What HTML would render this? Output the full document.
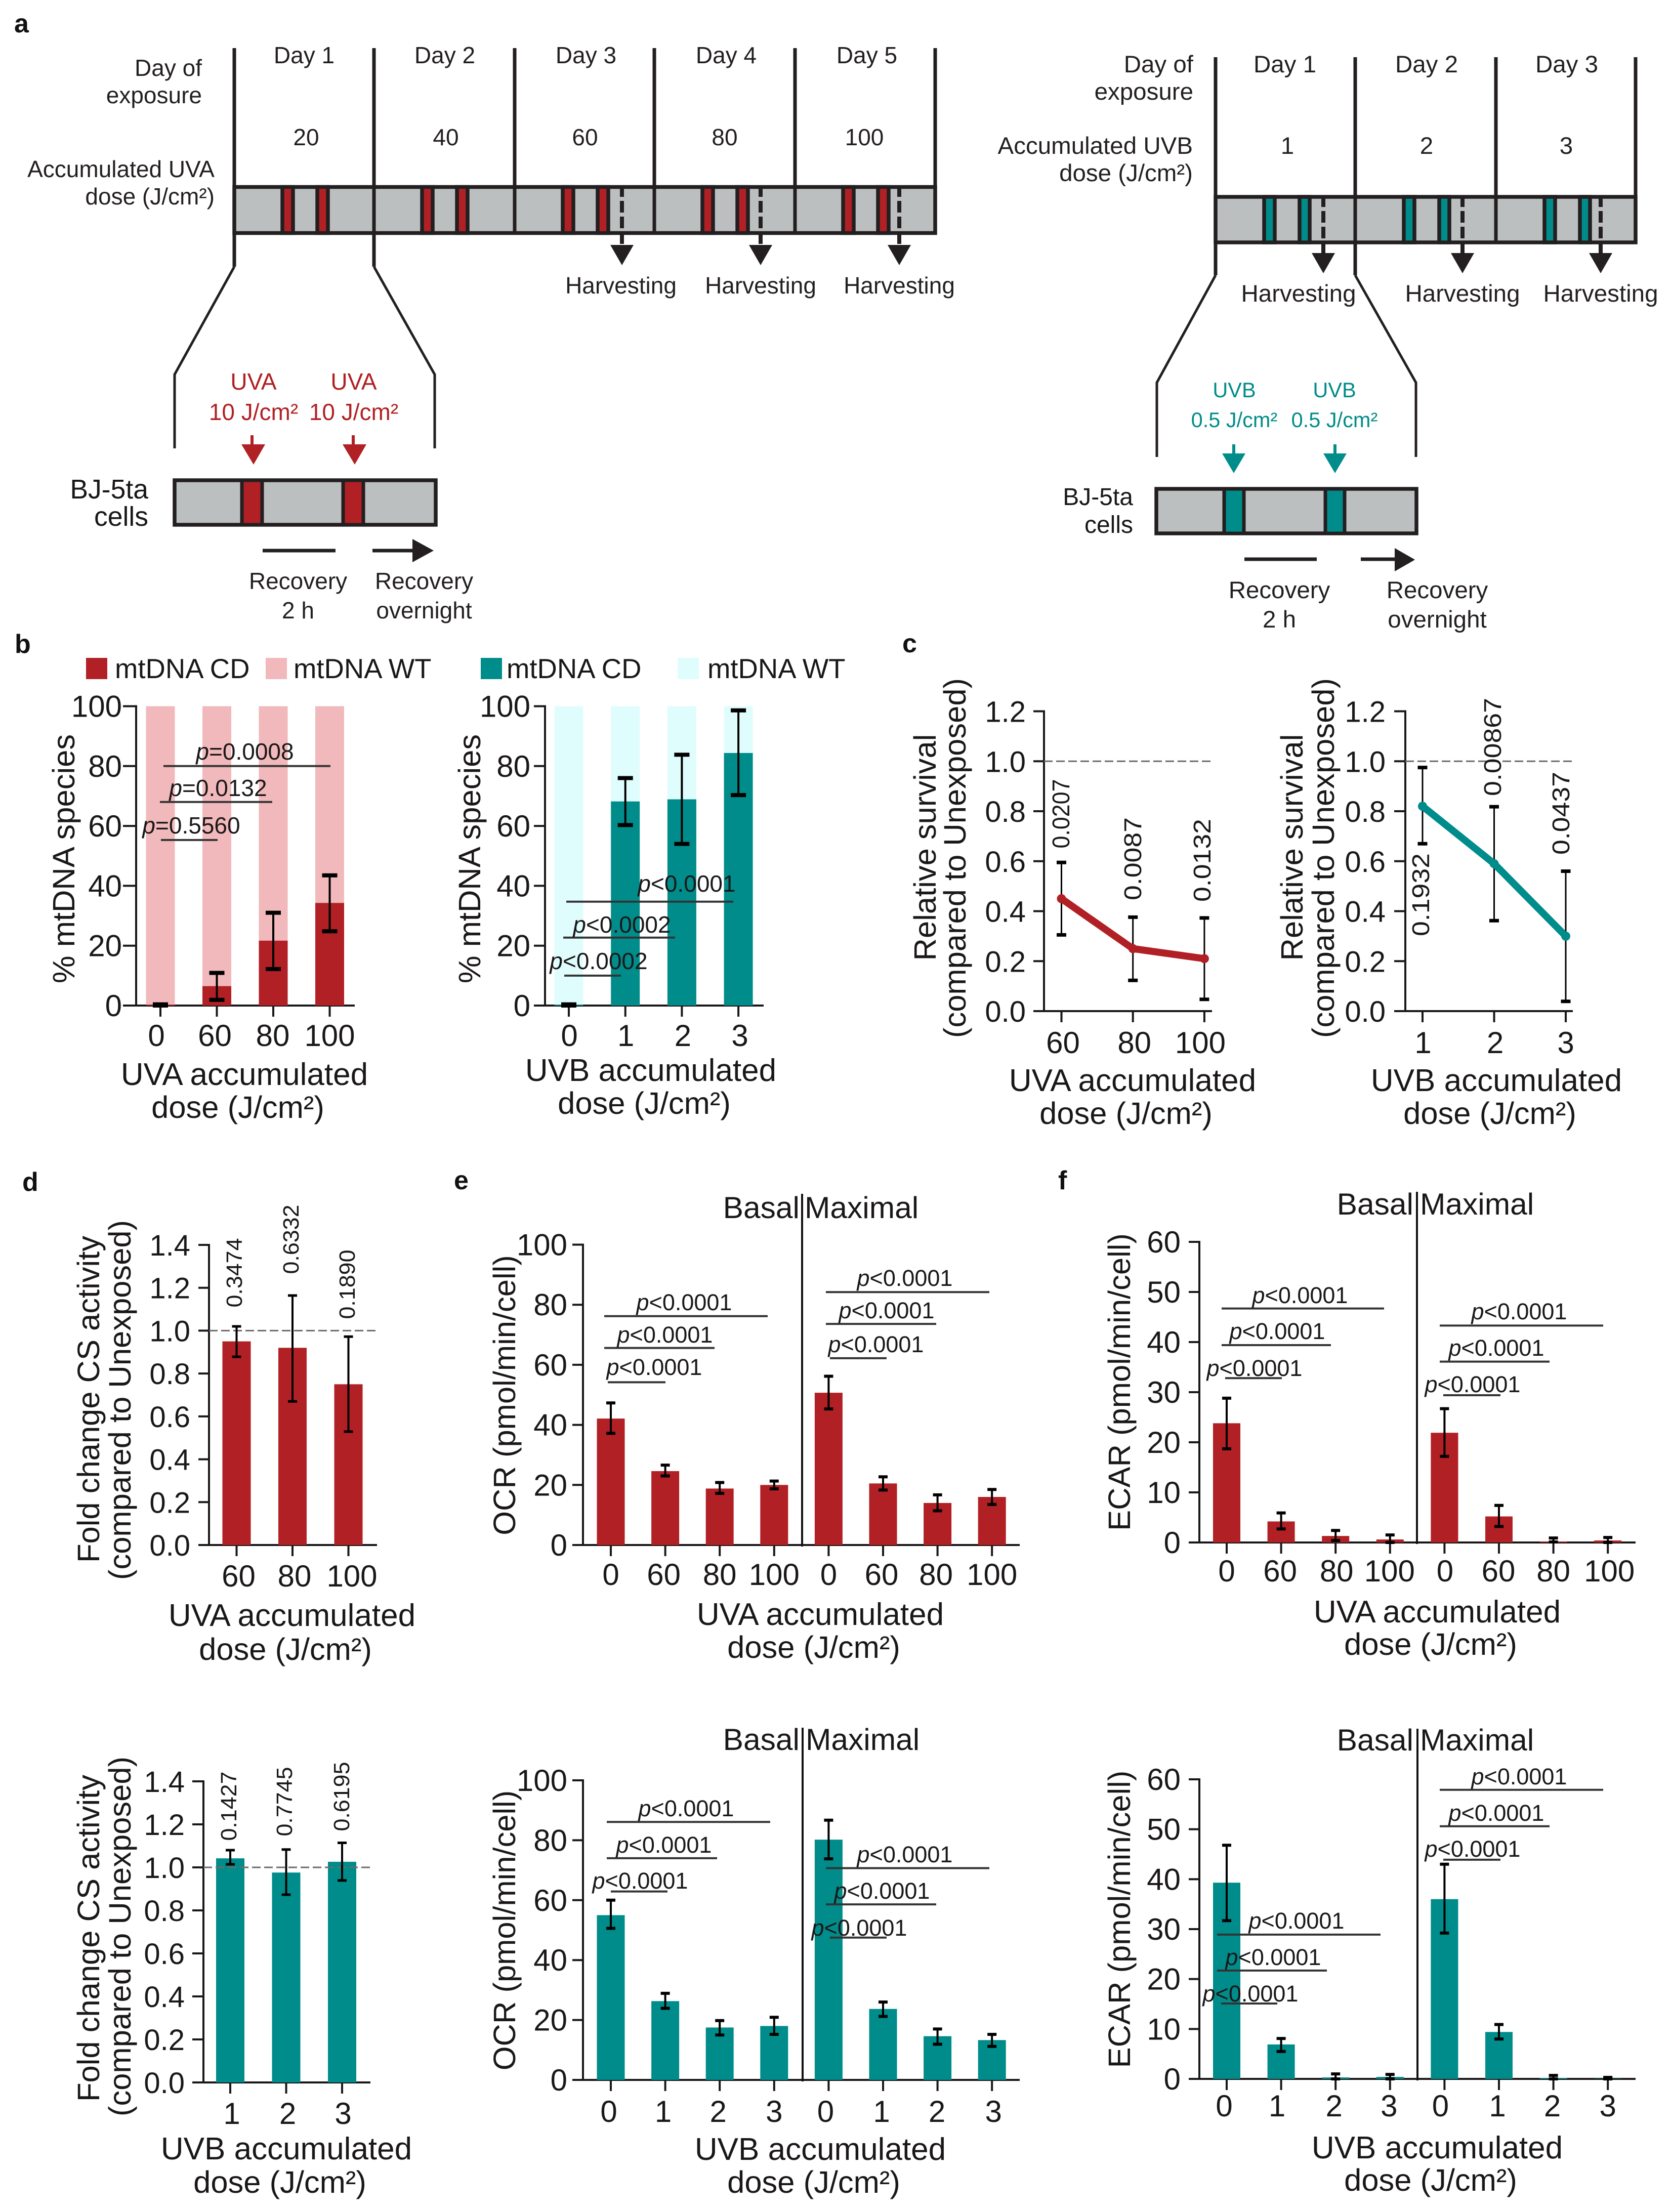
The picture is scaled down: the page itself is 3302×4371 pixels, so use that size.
<!DOCTYPE html>
<html lang="en">
<head>
<meta charset="utf-8">
<title>UV exposure schematic and mitochondrial response charts</title>
<style>
html,body{margin:0;padding:0;background:#fff;}
svg{display:block;position:absolute;left:0;top:0;font-family:"Liberation Sans",Arial,sans-serif;fill:#1a1718;}
text{fill:#1a1718;}
.d{font-size:46px;fill:#231f20;}
.d2{font-size:47.5px;fill:#231f20;}
.red{font-size:46px;fill:#b12024;}
.teal{font-size:41.5px;fill:#008c8a;}
.pl{font-size:52px;font-weight:bold;fill:#111;}
</style>
</head>
<body>
<svg id="figure" xmlns="http://www.w3.org/2000/svg" width="3302" height="4371" viewBox="0 0 3302 4371">
<rect x="0" y="0" width="3302" height="4371" fill="#fff"/>

<text class="pl" x="28" y="64">a</text>
<text class="pl" x="29" y="1290">b</text>
<text class="pl" x="1783" y="1289">c</text>
<text class="pl" x="44" y="2353">d</text>
<text class="pl" x="897" y="2350">e</text>
<text class="pl" x="2091" y="2350">f</text>

<!-- Panel a, UVA schematic -->
<g>
  <text class="d" x="399" y="150" text-anchor="end">Day of</text>
  <text class="d" x="399" y="204" text-anchor="end">exposure</text>
  <text class="d" x="424" y="350" text-anchor="end">Accumulated UVA</text>
  <text class="d" x="424" y="404" text-anchor="end">dose (J/cm²)</text>
  <text class="d" x="601" y="125" text-anchor="middle">Day 1</text>
  <text class="d" x="879" y="125" text-anchor="middle">Day 2</text>
  <text class="d" x="1158" y="125" text-anchor="middle">Day 3</text>
  <text class="d" x="1435" y="125" text-anchor="middle">Day 4</text>
  <text class="d" x="1713" y="125" text-anchor="middle">Day 5</text>
  <text class="d" x="605" y="287" text-anchor="middle">20</text>
  <text class="d" x="881" y="287" text-anchor="middle">40</text>
  <text class="d" x="1156" y="287" text-anchor="middle">60</text>
  <text class="d" x="1432" y="287" text-anchor="middle">80</text>
  <text class="d" x="1708" y="287" text-anchor="middle">100</text>
  <rect x="463" y="369.5" width="1385" height="91" fill="#bcbfbf" stroke="#231f20" stroke-width="7.5"/>
  <g fill="#b12024" stroke="#231f20" stroke-width="7.5">
    <rect x="558" y="369.5" width="21" height="91"/>
    <rect x="627" y="369.5" width="21" height="91"/>
    <rect x="834" y="369.5" width="21" height="91"/>
    <rect x="903" y="369.5" width="21" height="91"/>
    <rect x="1112" y="369.5" width="21" height="91"/>
    <rect x="1181" y="369.5" width="21" height="91"/>
    <rect x="1388" y="369.5" width="21" height="91"/>
    <rect x="1457" y="369.5" width="21" height="91"/>
    <rect x="1666" y="369.5" width="21" height="91"/>
    <rect x="1735" y="369.5" width="21" height="91"/>
  </g>
  <g stroke="#231f20" stroke-width="7" fill="none">
    <line x1="463" y1="95" x2="463" y2="527"/>
    <line x1="739" y1="95" x2="739" y2="527"/>
    <line x1="1017" y1="95" x2="1017" y2="464"/>
    <line x1="1293" y1="95" x2="1293" y2="464"/>
    <line x1="1571" y1="95" x2="1571" y2="464"/>
    <line x1="1848" y1="95" x2="1848" y2="464"/>
  </g>
  <g stroke="#231f20" stroke-width="8" stroke-dasharray="23 8" fill="none">
    <line x1="1229" y1="366" x2="1229" y2="488"/>
    <line x1="1503" y1="366" x2="1503" y2="488"/>
    <line x1="1777" y1="366" x2="1777" y2="488"/>
  </g>
  <polygon points="1206,484 1252,484 1229,524" fill="#231f20"/>
  <polygon points="1480,484 1526,484 1503,524" fill="#231f20"/>
  <polygon points="1754,484 1800,484 1777,524" fill="#231f20"/>
  <text class="d" x="1227" y="580" text-anchor="middle">Harvesting</text>
  <text class="d" x="1503" y="580" text-anchor="middle">Harvesting</text>
  <text class="d" x="1777" y="580" text-anchor="middle">Harvesting</text>
  <polyline points="463,527 345,740 345,886" fill="none" stroke="#231f20" stroke-width="5"/>
  <polyline points="739,527 859,740 859,886" fill="none" stroke="#231f20" stroke-width="5"/>
  <text class="red" x="501" y="770" text-anchor="middle">UVA</text>
  <text class="red" x="501" y="830" text-anchor="middle">10 J/cm²</text>
  <text class="red" x="699" y="770" text-anchor="middle">UVA</text>
  <text class="red" x="699" y="830" text-anchor="middle">10 J/cm²</text>
  <path d="M495 860h6v18h23l-23 40l-24-40h18z" fill="#b12024"/>
  <path d="M695 860h6v18h23l-23 40l-24-40h18z" fill="#b12024"/>
  <text x="293" y="985" text-anchor="end" font-size="53.5" fill="#231f20">BJ-5ta</text>
  <text x="293" y="1039" text-anchor="end" font-size="53.5" fill="#231f20">cells</text>
  <rect x="345" y="949" width="516" height="88" fill="#bcbfbf" stroke="#231f20" stroke-width="7.5"/>
  <rect x="478" y="949" width="40" height="88" fill="#b12024" stroke="#231f20" stroke-width="7"/>
  <rect x="678" y="949" width="40" height="88" fill="#b12024" stroke="#231f20" stroke-width="7"/>
  <line x1="519" y1="1088" x2="663" y2="1088" stroke="#231f20" stroke-width="7"/>
  <line x1="736" y1="1088" x2="820" y2="1088" stroke="#231f20" stroke-width="7"/>
  <polygon points="815,1065 857,1088 815,1111" fill="#231f20"/>
  <text class="d" x="589" y="1164" text-anchor="middle">Recovery</text>
  <text class="d" x="589" y="1222" text-anchor="middle">2 h</text>
  <text class="d" x="838" y="1164" text-anchor="middle">Recovery</text>
  <text class="d" x="838" y="1222" text-anchor="middle">overnight</text>
</g>

<!-- Panel a, UVB schematic -->
<g>
  <text class="d2" x="2358" y="143" text-anchor="end">Day of</text>
  <text class="d2" x="2358" y="197" text-anchor="end">exposure</text>
  <text class="d2" x="2357" y="304" text-anchor="end">Accumulated UVB</text>
  <text class="d2" x="2357" y="358" text-anchor="end">dose (J/cm²)</text>
  <text class="d2" x="2539" y="143" text-anchor="middle">Day 1</text>
  <text class="d2" x="2819" y="143" text-anchor="middle">Day 2</text>
  <text class="d2" x="3096" y="143" text-anchor="middle">Day 3</text>
  <text class="d2" x="2544" y="304" text-anchor="middle">1</text>
  <text class="d2" x="2819" y="304" text-anchor="middle">2</text>
  <text class="d2" x="3095" y="304" text-anchor="middle">3</text>
  <rect x="2402" y="389" width="830" height="90" fill="#bcbfbf" stroke="#231f20" stroke-width="7.5"/>
  <g fill="#008c8a" stroke="#231f20" stroke-width="7.5">
    <rect x="2498" y="389" width="21" height="90"/>
    <rect x="2568" y="389" width="20" height="90"/>
    <rect x="2774" y="389" width="21" height="90"/>
    <rect x="2844" y="389" width="20" height="90"/>
    <rect x="3052" y="389" width="21" height="90"/>
    <rect x="3122" y="389" width="20" height="90"/>
  </g>
  <g stroke="#231f20" stroke-width="7" fill="none">
    <line x1="2402" y1="113" x2="2402" y2="544"/>
    <line x1="2678" y1="113" x2="2678" y2="544"/>
    <line x1="2956" y1="113" x2="2956" y2="482"/>
    <line x1="3232" y1="113" x2="3232" y2="482"/>
  </g>
  <g stroke="#231f20" stroke-width="8" stroke-dasharray="23 8" fill="none">
    <line x1="2615" y1="386" x2="2615" y2="503"/>
    <line x1="2890" y1="386" x2="2890" y2="503"/>
    <line x1="3163" y1="386" x2="3163" y2="503"/>
  </g>
  <polygon points="2592,500 2638,500 2615,540" fill="#231f20"/>
  <polygon points="2867,500 2913,500 2890,540" fill="#231f20"/>
  <polygon points="3140,500 3186,500 3163,540" fill="#231f20"/>
  <text class="d2" x="2566" y="596" text-anchor="middle">Harvesting</text>
  <text class="d2" x="2890" y="596" text-anchor="middle">Harvesting</text>
  <text class="d2" x="3163" y="596" text-anchor="middle">Harvesting</text>
  <polyline points="2402,544 2286,756 2286,903" fill="none" stroke="#231f20" stroke-width="5"/>
  <polyline points="2678,544 2798,756 2798,903" fill="none" stroke="#231f20" stroke-width="5"/>
  <text class="teal" x="2439" y="785" text-anchor="middle">UVB</text>
  <text class="teal" x="2439" y="844" text-anchor="middle">0.5 J/cm²</text>
  <text class="teal" x="2637" y="785" text-anchor="middle">UVB</text>
  <text class="teal" x="2637" y="844" text-anchor="middle">0.5 J/cm²</text>
  <path d="M2435 878h6v18h20l-23 39l-23-39h20z" fill="#008c8a"/>
  <path d="M2635 878h6v18h20l-23 39l-23-39h20z" fill="#008c8a"/>
  <text x="2239" y="998" text-anchor="end" font-size="48" fill="#231f20">BJ-5ta</text>
  <text x="2239" y="1053" text-anchor="end" font-size="48" fill="#231f20">cells</text>
  <rect x="2285" y="966" width="514" height="88" fill="#bcbfbf" stroke="#231f20" stroke-width="7.5"/>
  <rect x="2419" y="966" width="39" height="88" fill="#008c8a" stroke="#231f20" stroke-width="7"/>
  <rect x="2619" y="966" width="38" height="88" fill="#008c8a" stroke="#231f20" stroke-width="7"/>
  <line x1="2459" y1="1105" x2="2602" y2="1105" stroke="#231f20" stroke-width="7"/>
  <line x1="2689" y1="1105" x2="2760" y2="1105" stroke="#231f20" stroke-width="7"/>
  <polygon points="2756,1083 2796,1106 2756,1129" fill="#231f20"/>
  <text class="d2" x="2528" y="1182" text-anchor="middle">Recovery</text>
  <text class="d2" x="2528" y="1240" text-anchor="middle">2 h</text>
  <text class="d2" x="2840" y="1182" text-anchor="middle">Recovery</text>
  <text class="d2" x="2840" y="1240" text-anchor="middle">overnight</text>
</g>

<!-- Panel b legends -->
<g>
  <rect x="170" y="1300" width="42" height="42" fill="#b12024"/>
  <text x="227" y="1340" font-size="54.5">mtDNA CD</text>
  <rect x="525" y="1300" width="42" height="42" fill="#f1b9bb"/>
  <text x="580" y="1340" font-size="54.5">mtDNA WT</text>
</g>
<g>
  <rect x="950" y="1300" width="42" height="42" fill="#008c8a"/>
  <text x="1001" y="1340" font-size="54.5">mtDNA CD</text>
  <rect x="1339" y="1300" width="42" height="42" fill="#e0fdfd"/>
  <text x="1398" y="1340" font-size="54.5">mtDNA WT</text>
</g>
</svg>

<script>
// ---------- chart data ----------
const doseCatsUva4 = ["0", "60", "80", "100"];
const doseCatsUvb4 = ["0", "1", "2", "3"];
const doseCatsUva3 = ["60", "80", "100"];
const doseCatsUvb3 = ["1", "2", "3"];
const doseCatsUva8 = ["0", "60", "80", "100", "0", "60", "80", "100"];
const doseCatsUvb8 = ["0", "1", "2", "3", "0", "1", "2", "3"];

const ticksPercent = ["0", "20", "40", "60", "80", "100"];
const ticksRelative12 = ["0.0", "0.2", "0.4", "0.6", "0.8", "1.0", "1.2"];
const ticksRelative14 = ["0.0", "0.2", "0.4", "0.6", "0.8", "1.0", "1.2", "1.4"];
const ticksEcar = ["0", "10", "20", "30", "40", "50", "60"];

const bUvaCD = [0.3, 6.5, 21.7, 34.3];
const bUvaWT = [99.7, 93.5, 78.3, 65.7];
const bUvaHi = [0.4, 10.9, 31, 43.5];
const bUvaLo = [0, 1.9, 12.2, 24.8];

const bUvbCD = [0.3, 68.2, 68.9, 84.4];
const bUvbWT = [99.7, 31.8, 31.1, 15.6];
const bUvbHi = [0.4, 76, 83.8, 98.6];
const bUvbLo = [0, 60.3, 54, 70.3];

const cUvaMean = [0.45, 0.25, 0.21];
const cUvaHi = [0.595, 0.376, 0.373];
const cUvaLo = [0.305, 0.123, 0.047];
const cUvaP = ["0.0207", "0.0087", "0.0132"];

const cUvbMean = [0.82, 0.59, 0.30];
const cUvbHi = [0.975, 0.818, 0.56];
const cUvbLo = [0.67, 0.362, 0.039];
const cUvbP = ["0.1932", "0.00867", "0.0437"];

const dUvaMean = [0.95, 0.92, 0.75];
const dUvaHi = [1.02, 1.164, 0.972];
const dUvaLo = [0.878, 0.67, 0.529];
const dUvaP = ["0.3474", "0.6332", "0.1890"];

const dUvbMean = [1.042, 0.976, 1.026];
const dUvbHi = [1.08, 1.083, 1.114];
const dUvbLo = [1.014, 0.873, 0.939];
const dUvbP = ["0.1427", "0.7745", "0.6195"];

const eUvaMean = [42.1, 24.6, 18.8, 20, 50.7, 20.5, 14, 16];
const eUvaHi = [47.3, 26.6, 20.8, 21.3, 56.2, 22.7, 16.7, 18.5];
const eUvaLo = [37.2, 23, 17.2, 18.7, 45.3, 18.3, 11.4, 13.5];

const eUvbMean = [55, 26.3, 17.5, 18, 80.2, 23.7, 14.6, 13.3];
const eUvbHi = [60, 28.9, 19.8, 20.9, 86.7, 26, 17, 15.2];
const eUvbLo = [50.6, 23.9, 15, 15.2, 73.8, 21.2, 11.9, 11.2];

const fUvaMean = [23.8, 4.2, 1.3, 0.6, 21.9, 5.2, 0.2, 0.4];
const fUvaHi = [28.8, 5.9, 2.4, 1.5, 26.7, 7.4, 0.9, 1];
const fUvaLo = [18.7, 2.7, 0.4, 0, 17.2, 3.2, 0.1, 0];

const fUvbMean = [39.3, 6.9, 0.3, 0.4, 36, 9.4, 0.2, 0.05];
const fUvbHi = [46.8, 8.1, 1, 0.9, 43, 10.9, 0.7, 0.3];
const fUvbLo = [31.7, 5.5, 0, 0, 29.2, 8, 0, 0];

// ---------- colours ----------
const RED = "#b12024", PINK = "#f1b9bb", TEAL = "#008c8a", CYAN = "#e0fdfd", INK = "#1a1718";

// ---------- low level helpers ----------
const figure = document.getElementById("figure");
const NS = "http://www.w3.org/2000/svg";

function mk(parent, tag, attrs, content) {
  const node = document.createElementNS(NS, tag);
  for (const k in attrs) node.setAttribute(k, attrs[k]);
  if (content !== undefined) node.textContent = content;
  parent.appendChild(node);
  return node;
}
function seg(parent, x1, y1, x2, y2, stroke, width, dash) {
  const a = { x1: x1, y1: y1, x2: x2, y2: y2, stroke: stroke, "stroke-width": width };
  if (dash) a["stroke-dasharray"] = dash;
  return mk(parent, "line", a);
}
function label(parent, x, y, str, size, anchor, rotate, len) {
  const a = { x: x, y: y, "font-size": size, "text-anchor": anchor || "middle" };
  if (rotate) a.transform = "rotate(-90 " + x + " " + y + ")";
  if (len) { a.textLength = len; a.lengthAdjust = "spacingAndGlyphs"; }
  return mk(parent, "text", a, str);
}

// ---------- axes ----------
function makeAxes(o) {
  const group = mk(figure, "g", {});
  
  
  const sy = v => o.y0 - (v / o.yMax) * (o.y0 - o.yTop);
  const sx = i => o.xFirst + i * o.xStep;

  o.yTicks.forEach(t => {
    const v = Number(t);
    const tick = seg(group, o.tickLeft, sy(v), o.axisX, sy(v), INK, 4);
    
    
    const tl = label(group, o.yLabelRight, sy(v) + 21, t, o.yFont || 60, "end");
    
    
  });
  o.categories.forEach((c, i) => {
    const tick = seg(group, sx(i), o.y0, sx(i), o.y0 + 22, INK, 4);
    
    
    const nudge = o.labelNudge ? o.labelNudge[i] : 0;
    const tl = label(group, sx(i) + nudge, o.xLabelY, c, o.xFont || 60);
    
    
  });
  const ya = seg(group, o.axisX, o.yTop - 2, o.axisX, o.y0 + 2, INK, 4);
  
  
  const xa = seg(group, o.tickLeft, o.y0, o.xEnd, o.y0, INK, 4);
  
  
  return { g: group, sx: sx, sy: sy, o: o };
}

function refLine(ax, value) {
  const el = seg(ax.g, ax.o.axisX, ax.sy(value), ax.o.xEnd, ax.sy(value), "#6b6b6b", 3, "17 7");
  
  
}

function bars(ax, values, base, color, width, name) {
  values.forEach((v, i) => {
    const b = base ? base[i] : 0;
    const el = mk(ax.g, "rect", { x: ax.sx(i) - width / 2, y: ax.sy(b + v), width: width, height: ax.sy(b) - ax.sy(b + v), fill: color });
    
    
  });
}

function errorBars(ax, hi, lo, capW, capT, stem) {
  hi.forEach((h, i) => {
    const x = ax.sx(i);
    const s = seg(ax.g, x, ax.sy(h), x, ax.sy(lo[i]), "#000", stem);
    
    
    const top = seg(ax.g, x - capW / 2, ax.sy(h), x + capW / 2, ax.sy(h), "#000", capT);
    
    
    const bot = seg(ax.g, x - capW / 2, ax.sy(lo[i]), x + capW / 2, ax.sy(lo[i]), "#000", capT);
    
    
  });
}

function seriesLine(ax, values, color) {
  const pts = values.map((v, i) => ax.sx(i) + "," + ax.sy(v)).join(" ");
  const pl = mk(ax.g, "polyline", { points: pts, fill: "none", stroke: color, "stroke-width": 14, "stroke-linejoin": "round" });
  
  
  values.forEach((v, i) => {
    const c = mk(ax.g, "circle", { cx: ax.sx(i), cy: ax.sy(v), r: 9, fill: color });
    
    
  });
}

// A significance bracket: a horizontal bar at a data level plus its p label.
function stat(ax, x1, x2, level, op, val, textX, textY, size) {
  const l = seg(ax.g, x1, ax.sy(level), x2, ax.sy(level), "#333", 4);
  
  
  const t = mk(ax.g, "text", { x: textX, y: textY, "font-size": size, "text-anchor": "middle" });
  
  
  const ps = mk(t, "tspan", { "font-style": "italic" }, "p");
  
  
  const vs = mk(t, "tspan", {}, op + val);
  
  
}

function yTitle(ax, x, y, str) {
  const t = label(ax.g, x, y, str, 61.5, "middle", true);
  
  
}
function xTitle(ax, x, y1, y2, str) {
  const a = label(ax.g, x, y1, str, 62);
  
  
  const b = label(ax.g, x - 13, y2, "dose (J/cm²)", 61.5);
  
  
}
function vertP(ax, x, y, str, size, len) {
  const t = label(ax.g, x, y, str, size, "middle", true, len);
  
  
}
function divider(ax, top, x) {
  const d = seg(ax.g, x, top, x, ax.o.y0 + 3, "#111", 4);
  
  
}
function headers(ax, basalRight, maxLeft, y) {
  const a = label(ax.g, basalRight, y, "Basal", 60.5, "end");
  
  
  const b = label(ax.g, maxLeft, y, "Maximal", 60.5, "start");
  
  
}

// ---------- panel b ----------
const b1 = makeAxes({ name: "panel-b-uva-mtdna-chart", categories: doseCatsUva4, yTicks: ticksPercent, yMax: 100,
  axisX: 269, yTop: 1395.5, y0: 1987, tickLeft: 243, xEnd: 701, xFirst: 317, xStep: 111.5, yLabelRight: 241, xLabelY: 2067, labelNudge: [-8, -4, -1, 0] });
bars(b1, bUvaCD, null, RED, 57, "mtdna-cd-bar");
bars(b1, bUvaWT, bUvaCD, PINK, 57, "mtdna-wt-bar");
errorBars(b1, bUvaHi, bUvaLo, 30, 8, 4);
stat(b1, 323, 653, 80, "=", "0.0008", 484, 1501, 46);
stat(b1, 316, 538, 68, "=", "0.0132", 431, 1573, 46);
stat(b1, 318, 430, 55.3, "=", "0.5560", 378, 1647, 46);
yTitle(b1, 147, 1697, "% mtDNA species");
xTitle(b1, 483, 2144, 2209, "UVA accumulated");

const b2 = makeAxes({ name: "panel-b-uvb-mtdna-chart", categories: doseCatsUvb4, yTicks: ticksPercent, yMax: 100,
  axisX: 1077, yTop: 1395.5, y0: 1987, tickLeft: 1055, xEnd: 1509, xFirst: 1124, xStep: 111.7, yLabelRight: 1048, xLabelY: 2067, labelNudge: [1, 1, 2, 3] });
bars(b2, bUvbCD, null, TEAL, 57, "mtdna-cd-bar");
bars(b2, bUvbWT, bUvbCD, CYAN, 57, "mtdna-wt-bar");
errorBars(b2, bUvbHi, bUvbLo, 30, 8, 4);
stat(b2, 1119, 1449, 34.7, "<", "0.0001", 1357, 1762, 46);
stat(b2, 1113, 1334, 22.7, "<", "0.0002", 1229, 1843, 46);
stat(b2, 1115, 1227, 10, "<", "0.0002", 1183, 1915, 46);
yTitle(b2, 949, 1697, "% mtDNA species");
xTitle(b2, 1286, 2136, 2201, "UVB accumulated");

// ---------- panel c ----------
const c1 = makeAxes({ name: "panel-c-uva-survival-chart", categories: doseCatsUva3, yTicks: ticksRelative12, yMax: 1.2,
  axisX: 2063, yTop: 1405.5, y0: 1998, tickLeft: 2042, xEnd: 2395, xFirst: 2097.5, xStep: 141.2, yLabelRight: 2027, xLabelY: 2081, yFont: 58, labelNudge: [3, 3, -8] });
refLine(c1, 1);
errorBars(c1, cUvaHi, cUvaLo, 19, 7, 3);
seriesLine(c1, cUvaMean, RED);
vertP(c1, 2113, 1608, cUvaP[0], 48, 137);
vertP(c1, 2255, 1697, cUvaP[1], 48, 164);
vertP(c1, 2392, 1700, cUvaP[2], 48, 164);
yTitle(c1, 1849, 1674.5, "Relative survival");
yTitle(c1, 1908, 1695.5, "(compared to Unexposed)");
xTitle(c1, 2238, 2156, 2221, "UVA accumulated");

const c2 = makeAxes({ name: "panel-c-uvb-survival-chart", categories: doseCatsUvb3, yTicks: ticksRelative12, yMax: 1.2,
  axisX: 2777, yTop: 1405.5, y0: 1998, tickLeft: 2755, xEnd: 3108, xFirst: 2811, xStep: 141.5, yLabelRight: 2738, xLabelY: 2081, yFont: 58, labelNudge: [1, 2, 0] });
refLine(c2, 1);
errorBars(c2, cUvbHi, cUvbLo, 19, 7, 3);
seriesLine(c2, cUvbMean, TEAL);
vertP(c2, 2824, 1768, cUvbP[0], 48, 164);
vertP(c2, 2966, 1476, cUvbP[1], 48, 194);
vertP(c2, 3101, 1607, cUvbP[2], 48, 164);
yTitle(c2, 2574, 1674.5, "Relative survival");
yTitle(c2, 2636, 1695.5, "(compared to Unexposed)");
xTitle(c2, 2957, 2156, 2221, "UVB accumulated");

// ---------- panel d ----------
const d1 = makeAxes({ name: "panel-d-uva-cs-activity-chart", categories: doseCatsUva3, yTicks: ticksRelative14, yMax: 1.4,
  axisX: 413, yTop: 2460, y0: 3053, tickLeft: 392, xEnd: 745, xFirst: 467.5, xStep: 110.5, yLabelRight: 376, xLabelY: 3135, yFont: 58, labelNudge: [4, 4, 7] });
bars(d1, dUvaMean, null, RED, 56, "cs-activity-bar");
refLine(d1, 1);
errorBars(d1, dUvaHi, dUvaLo, 18, 5, 4);
vertP(d1, 478, 2515, dUvaP[0], 44, 137);
vertP(d1, 590, 2449, dUvaP[1], 44, 137);
vertP(d1, 701, 2538, dUvaP[2], 44, 137);
yTitle(d1, 196, 2765, "Fold change CS activity");
yTitle(d1, 258, 2766.5, "(compared to Unexposed)");
xTitle(d1, 577, 3213, 3280, "UVA accumulated");

const d2 = makeAxes({ name: "panel-d-uvb-cs-activity-chart", categories: doseCatsUvb3, yTicks: ticksRelative14, yMax: 1.4,
  axisX: 402, yTop: 3520, y0: 4115, tickLeft: 380, xEnd: 732, xFirst: 455, xStep: 110.5, yLabelRight: 365, xLabelY: 4197, yFont: 58, labelNudge: [3, 3, 2] });
bars(d2, dUvbMean, null, TEAL, 56, "cs-activity-bar");
refLine(d2, 1);
errorBars(d2, dUvbHi, dUvbLo, 18, 5, 4);
vertP(d2, 467, 3569, dUvbP[0], 44, 137);
vertP(d2, 577, 3560, dUvbP[1], 44, 137);
vertP(d2, 690, 3550, dUvbP[2], 44, 137);
yTitle(d2, 196, 3830, "Fold change CS activity");
yTitle(d2, 258, 3826.5, "(compared to Unexposed)");
xTitle(d2, 566, 4267, 4333, "UVB accumulated");

// ---------- panel e ----------
const e1 = makeAxes({ name: "panel-e-uva-ocr-chart", categories: doseCatsUva8, yTicks: ticksPercent, yMax: 100,
  axisX: 1152, yTop: 2459.5, y0: 3053, tickLeft: 1131, xEnd: 2015, xFirst: 1207, xStep: 107.6, yLabelRight: 1121, xLabelY: 3132, labelNudge: [0, -3, 0, 0, 0, -3, -3, 0] });
bars(e1, eUvaMean, null, RED, 55, "ocr-bar");
errorBars(e1, eUvaHi, eUvaLo, 18, 6, 4);
divider(e1, 2359, 1585);
headers(e1, 1580, 1590, 2407);
stat(e1, 1194, 1517, 76.2, "<", "0.0001", 1352, 2589, 45);
stat(e1, 1194, 1412, 65.6, "<", "0.0001", 1314, 2653, 45);
stat(e1, 1201, 1315, 54.2, "<", "0.0001", 1293, 2717, 45);
stat(e1, 1632, 1955, 84.2, "<", "0.0001", 1788, 2541, 45);
stat(e1, 1632, 1850, 73.6, "<", "0.0001", 1752, 2605, 45);
stat(e1, 1640, 1752, 62.2, "<", "0.0001", 1731, 2672, 45);
yTitle(e1, 1018, 2757, "OCR (pmol/min/cell)");
xTitle(e1, 1621, 3211, 3276, "UVA accumulated");

const e2 = makeAxes({ name: "panel-e-uvb-ocr-chart", categories: doseCatsUvb8, yTicks: ticksPercent, yMax: 100,
  axisX: 1152, yTop: 3518, y0: 4110, tickLeft: 1131, xEnd: 2015, xFirst: 1207, xStep: 107.6, yLabelRight: 1121, xLabelY: 4193, labelNudge: [-4, -4, -3, 0, -6, -3, -1, 3] });
bars(e2, eUvbMean, null, TEAL, 55, "ocr-bar");
errorBars(e2, eUvbHi, eUvbLo, 18, 6, 4);
divider(e2, 3414, 1586);
headers(e2, 1580, 1592, 3458);
stat(e2, 1199, 1522, 86.1, "<", "0.0001", 1356, 3589, 45);
stat(e2, 1199, 1417, 74, "<", "0.0001", 1312, 3661, 45);
stat(e2, 1207, 1319, 62.9, "<", "0.0001", 1265, 3732, 45);
stat(e2, 1632, 1955, 70.7, "<", "0.0001", 1788, 3680, 45);
stat(e2, 1632, 1850, 58.6, "<", "0.0001", 1743, 3752, 45);
stat(e2, 1640, 1752, 47.5, "<", "0.0001", 1698, 3825, 45);
yTitle(e2, 1018, 3814.5, "OCR (pmol/min/cell)");
xTitle(e2, 1621, 4268, 4333, "UVB accumulated");

// ---------- panel f ----------
const f1 = makeAxes({ name: "panel-f-uva-ecar-chart", categories: doseCatsUva8, yTicks: ticksEcar, yMax: 60,
  axisX: 2370, yTop: 2454, y0: 3048, tickLeft: 2349, xEnd: 3232, xFirst: 2424, xStep: 107.6, yLabelRight: 2333, xLabelY: 3125, labelNudge: [0, -2, 2, -1, 1, -1, 0, 3] });
bars(f1, fUvaMean, null, RED, 54, "ecar-bar");
errorBars(f1, fUvaHi, fUvaLo, 18, 6, 4);
divider(f1, 2355, 2800);
headers(f1, 2793, 2806, 2400);
stat(f1, 2414, 2735, 46.7, "<", "0.0001", 2569, 2575, 45);
stat(f1, 2414, 2630, 39.4, "<", "0.0001", 2524, 2646, 45);
stat(f1, 2421, 2533, 32.8, "<", "0.0001", 2479, 2719, 45);
stat(f1, 2845, 3168, 43.3, "<", "0.0001", 3002, 2607, 45);
stat(f1, 2845, 3062, 36.1, "<", "0.0001", 2957, 2679, 45);
stat(f1, 2852, 2965, 29.4, "<", "0.0001", 2910, 2751, 45);
yTitle(f1, 2233, 2731, "ECAR (pmol/min/cell)");
xTitle(f1, 2840, 3206, 3270, "UVA accumulated");

const f2 = makeAxes({ name: "panel-f-uvb-ecar-chart", categories: doseCatsUvb8, yTicks: ticksEcar, yMax: 60,
  axisX: 2370, yTop: 3516, y0: 4108, tickLeft: 2349, xEnd: 3232, xFirst: 2424, xStep: 107.6, yLabelRight: 2333, xLabelY: 4182, labelNudge: [-5, -8, -3, -2, -8, -3, -2, 0] });
bars(f2, fUvbMean, null, TEAL, 54, "ecar-bar");
errorBars(f2, fUvbHi, fUvbLo, 18, 6, 4);
divider(f2, 3416, 2801);
headers(f2, 2793, 2806, 3459);
stat(f2, 2405, 2728, 28.9, "<", "0.0001", 2562, 3811, 45);
stat(f2, 2405, 2622, 21.7, "<", "0.0001", 2516, 3883, 45);
stat(f2, 2413, 2524, 15.1, "<", "0.0001", 2471, 3955, 45);
stat(f2, 2845, 3168, 57.9, "<", "0.0001", 3002, 3526, 45);
stat(f2, 2845, 3062, 50.6, "<", "0.0001", 2957, 3598, 45);
stat(f2, 2852, 2965, 43.9, "<", "0.0001", 2910, 3669, 45);
yTitle(f2, 2233, 3792.5, "ECAR (pmol/min/cell)");
xTitle(f2, 2840, 4265, 4329, "UVB accumulated");
</script>
</body>
</html>
